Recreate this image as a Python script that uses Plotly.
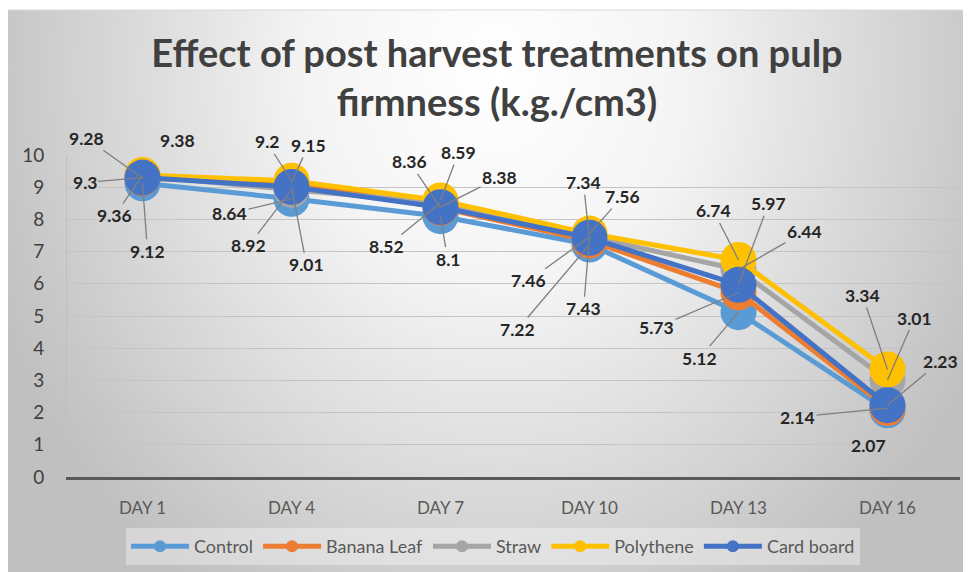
import base64
import plotly.graph_objects as go

# ---- data ----
days = ["DAY 1", "DAY 4", "DAY 7", "DAY 10", "DAY 13", "DAY 16"]
control = [9.12, 8.64, 8.10, 7.22, 5.12, 2.07]
banana_leaf = [9.28, 9.15, 8.36, 7.34, 5.73, 2.14]
straw = [9.36, 8.92, 8.52, 7.46, 6.44, 3.01]
polythene = [9.38, 9.20, 8.59, 7.56, 6.74, 3.34]
card_board = [9.30, 9.01, 8.38, 7.43, 5.97, 2.23]
y_ticks = [0, 1, 2, 3, 4, 5, 6, 7, 8, 9, 10]

series_names = ["Control", "Banana Leaf", "Straw", "Polythene", "Card board"]
series_values = [control, banana_leaf, straw, polythene, card_board]
colors = ["#5B9BD5", "#ED7D31", "#A5A5A5", "#FFC000", "#4472C4"]

# ---- label placement (pixel offsets of each data label from its point) ----
label_offsets = {
    "Control":     [(5, 68), (-62, 15), (7, 43), (-72, 85), (-39, 46), (-19, 35)],
    "Banana Leaf": [(-56, -40), (17, -37), (-31, -46), (-6, -58), (-82, 35), (-90, 9)],
    "Straw":       [(-28, 40), (-43, 56), (-54, 44), (-61, 44), (66, -38), (27, -62)],
    "Polythene":   [(35, -34), (-25, -39), (18, -48), (33, -37), (-25, -49), (-25, -74)],
    "Card board":  [(-58, 5), (15, 78), (59, -30), (-6, 71), (30, -81), (53, -44)],
}
hidden_leaders = {("Polythene", 0), ("Control", 5)}

FONT = "Lato"

fig = go.Figure()
for name, vals, col in zip(series_names, series_values, colors):
    fig.add_trace(go.Scatter(
        x=days, y=vals, name=name, mode="lines+markers",
        line=dict(color=col, width=5),
        marker=dict(color=col, size=36, line=dict(width=0)),
        cliponaxis=False,
    ))

annotations = []
for name, vals in zip(series_names, series_values):
    for i, (d, v) in enumerate(zip(days, vals)):
        ax, ay = label_offsets[name][i]
        hide = (name, i) in hidden_leaders
        annotations.append(dict(
            x=d, y=v, xref="x", yref="y", text=f"{v:g}",
            showarrow=True, arrowhead=0, ax=ax, ay=ay,
            arrowwidth=1.3,
            arrowcolor="rgba(0,0,0,0)" if hide else "#7f7f7f",
            standoff=0,
            font=dict(family=FONT, size=17.5, color="#262626", weight="bold"),
        ))

# page body has an 8px margin: figure is sized / placed to compensate
OFF = 8
W, H = 971 - OFF, 572 - OFF
L, R, T, B = 59, 11, 147, 95
pw, ph = W - L - R, H - T - B
def px(x_ref):
    return (x_ref - OFF - L) / pw
def py(y_ref):
    return (H - B - (y_ref - OFF)) / ph

# background radial gradient (decoration)
svg = (
    '<svg xmlns="http://www.w3.org/2000/svg" width="964" height="562" '
    'viewBox="0 0 964 562" preserveAspectRatio="none">'
    '<defs><radialGradient id="g" gradientUnits="userSpaceOnUse" cx="490" cy="60" r="540" '
    'gradientTransform="translate(490 60) scale(1 1.15) translate(-490 -60)">'
    '<stop offset="0" stop-color="#ffffff"/>'
    '<stop offset="0.35" stop-color="#f4f4f4"/>'
    '<stop offset="1" stop-color="#c0c0c0"/>'
    '</radialGradient></defs>'
    '<rect x="0" y="0" width="964" height="562" fill="url(#g)"/></svg>'
)
bg_src = "data:image/svg+xml;base64," + base64.b64encode(svg.encode()).decode()

fig.update_layout(
    width=W, height=H,
    margin=dict(l=L, r=R, t=T, b=B, autoexpand=False),
    paper_bgcolor="white",
    plot_bgcolor="rgba(0,0,0,0)",
    font=dict(family=FONT, size=17, color="#595959"),
    title=dict(
        text="Effect of post harvest treatments on pulp<br>firmness (k.g./cm3)",
        x=(497 - OFF) / W, xanchor="center", xref="container",
        y=1 - 59 / H, yanchor="top", yref="container",
        font=dict(family=FONT, size=38, color="#404040", weight="bold"),
    ),
    showlegend=True,
    legend=dict(
        orientation="h", x=px(493), xanchor="center", y=py(528), yanchor="top",
        bgcolor="rgba(255,255,255,0.35)",
        font=dict(family=FONT, size=18, color="#595959"),
        itemsizing="constant", itemwidth=58,
    ),
    annotations=annotations,
    images=[dict(
        source=bg_src, xref="paper", yref="paper",
        x=px(7), y=py(10), sizex=px(972) - px(7), sizey=py(10) - py(573),
        xanchor="left", yanchor="top", sizing="stretch", layer="below",
    )],
    shapes=[dict(
        type="rect", xref="paper", yref="paper",
        x0=px(7), x1=px(972), y0=py(573), y1=py(10),
        line=dict(color="#d9d9d9", width=1), layer="below",
    )],
)

fig.update_xaxes(
    type="category", showgrid=False, showline=True, linecolor="#595959", linewidth=3,
    ticks="", ticklabelstandoff=14,
    tickfont=dict(family=FONT, size=17, color="#595959"),
)
fig.update_yaxes(
    range=[0, 10], tickvals=y_ticks, showgrid=True, gridcolor="#c4c4c4", gridwidth=1,
    showline=True, linecolor="#bfbfbf", linewidth=1, zeroline=False,
    ticks="", ticklabelstandoff=18,
    tickfont=dict(family=FONT, size=19, color="#404040"),
)

fig.write_html("out.html")
